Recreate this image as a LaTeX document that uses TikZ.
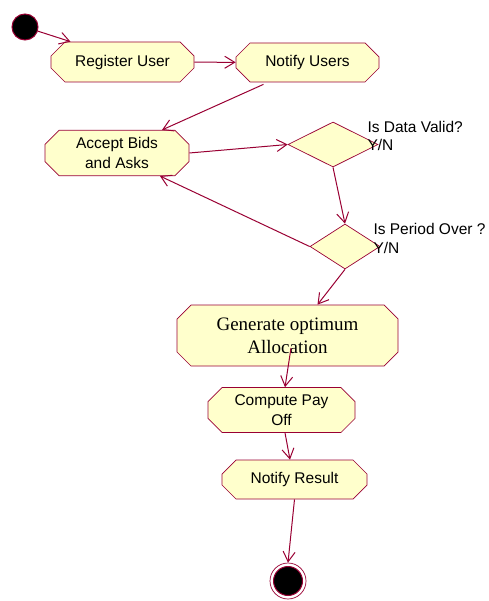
\documentclass[tikz,border=0pt]{standalone}
\usepackage{fontspec}
\setmainfont{Liberation Sans}
\newfontfamily\serifface{Liberation Serif}
\usetikzlibrary{positioning}
\usetikzlibrary{shapes.geometric}
\usetikzlibrary{shapes.misc}
\usetikzlibrary{arrows.meta}
\definecolor{umlred}{RGB}{153,0,51}
\definecolor{umlfill}{RGB}{255,255,204}

\begin{document}
\begin{tikzpicture}[x=1pt,y=-1pt,->,>={Straight Barb[length=10pt,width=12pt]},
					draw=umlred,line width=1pt,font=\fontsize{15.5}{20}\selectfont]
					\tikzstyle{activity}=[chamfered rectangle,chamfered rectangle xsep=7pt,
					chamfered rectangle ysep=7pt,draw=umlred,fill=umlfill,inner sep=0pt,
					line width=0.7pt,align=center]
					\tikzstyle{decision}=[diamond,draw=umlred,fill=umlfill,inner sep=0pt,line width=0.7pt]
					\tikzstyle{guard}=[anchor=base west,inner sep=0pt,align=left]
					
					\useasboundingbox (0,0) rectangle (488,601);
					
					\node[circle,draw=umlred,fill=black,minimum size=26pt] (start) at (25,27) {};
					
					\node[activity,minimum width=143pt,minimum height=40pt] (reg)    at (122.5,62)  {Register User};
					\node[activity,minimum width=143pt,minimum height=39pt] (notify) at (307.5,62.5)  {Notify Users};
					\node[activity,minimum width=144pt,minimum height=40pt] (accept) at (117,153)  {Accept Bids\\and Asks};
					\node[decision,minimum width=90pt,minimum height=45pt]  (valid)  at (333,144.5)  {};
					\node[decision,minimum width=70pt,minimum height=45pt]  (over)   at (345,246.5)  {};
					\node[activity,minimum width=221pt,minimum height=61pt,
					      font=\serifface\fontsize{19}{23}\selectfont] (gen)     at (287.5,335.5) {Generate optimum\\Allocation};
					\node[activity,minimum width=147pt,minimum height=40pt] (pay)    at (281.5,410) {Compute Pay\\Off};
					\node[activity,minimum width=145pt,minimum height=39pt] (result) at (294.5,479.5) {Notify Result};
					
					\node[circle,draw=umlred,minimum size=36pt,line width=0.7pt] (stop) at (288,581) {};
					\node[circle,draw=umlred,fill=black,minimum size=29pt] (stopdot) at (stop) {};
					
					\node[guard,font=\fontsize{15.5}{18}\selectfont] (validtext) at (367,151) {Is Data Valid?\\Y/N};
					\node[guard,font=\fontsize{15.5}{18}\selectfont] (overtext)  at (373,253) {Is Period Over ?\\Y/N};
					
					\draw (start) -- ([xshift=-52pt]reg.north);
					\draw (reg) -- (notify);
					\draw ([xshift=-44pt,yshift=-2pt]notify.south) -- ([xshift=45pt]accept.north);
					\draw (accept.east) -- (valid.west);
					\draw (valid.south) -- (over.north);
					\draw (over.west) -- ([xshift=43pt]accept.south);
					\draw (over.south) -- ([xshift=30pt]gen.north);
					\draw ([xshift=3.5pt,yshift=-12.5pt]gen.center) -- ([xshift=3.5pt]pay.north);
					\draw ([xshift=3.5pt]pay.south) -- ([xshift=-4.5pt]result.north);
					\draw (result.south) -- (stop.north);
					
\end{tikzpicture}
\end{document}
